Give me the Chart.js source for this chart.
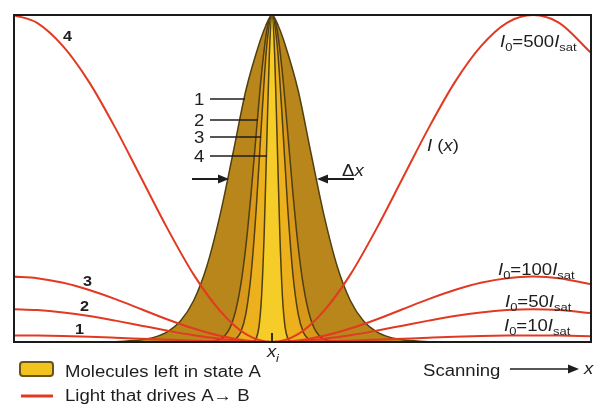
<!DOCTYPE html>
<html>
<head>
<meta charset="utf-8">
<script src="https://cdn.jsdelivr.net/npm/chart.js@4"></script>
<style>
  html, body { margin: 0; padding: 0; background: #fff; }
</style>
</head>
<body>
<canvas id="graficoBarrido" width="598" height="405"></canvas>
<script>
// Posición de barrido (unidades relativas, x_i = 0)
const posLuz = [-0.99, -0.9, -0.8, -0.7, -0.6, -0.5, -0.4, -0.3, -0.2, -0.1, 0, 0.1, 0.2, 0.3, 0.4, 0.5, 0.6, 0.7, 0.8, 0.9, 1.0, 1.1, 1.22];

// Intensidad I(x) en unidades de I_sat
const luz500 = [500, 488, 452, 397, 327, 250, 173, 103, 48, 12, 0, 12, 48, 103, 173, 250, 327, 397, 452, 488, 500, 488, 443];
const luz100 = [100, 97.6, 90.5, 79.4, 65.5, 50, 34.5, 20.6, 9.5, 2.4, 0, 2.4, 9.5, 20.6, 34.5, 50, 65.5, 79.4, 90.5, 97.6, 100, 97.6, 88.5];
const luz50 = [50, 48.8, 45.2, 39.7, 32.7, 25, 17.3, 10.3, 4.8, 1.2, 0, 1.2, 4.8, 10.3, 17.3, 25, 32.7, 39.7, 45.2, 48.8, 50, 48.8, 44.3];
const luz10 = [10, 9.8, 9.0, 7.9, 6.5, 5, 3.5, 2.1, 1.0, 0.2, 0, 0.2, 1.0, 2.1, 3.5, 5, 6.5, 7.9, 9.0, 9.8, 10, 9.8, 8.9];

// Fracción de moléculas que quedan en el estado A
const posA10 = [-0.6, -0.5, -0.45, -0.4, -0.35, -0.3, -0.25, -0.2, -0.15, -0.1, -0.05, -0.025, 0, 0.025, 0.05, 0.1, 0.15, 0.2, 0.25, 0.3, 0.35, 0.4, 0.45, 0.5, 0.6];
const molA10 = [0.001, 0.007, 0.015, 0.032, 0.065, 0.127, 0.231, 0.385, 0.575, 0.77, 0.91, 0.965, 1, 0.965, 0.91, 0.77, 0.575, 0.385, 0.231, 0.127, 0.065, 0.032, 0.015, 0.007, 0.001];

const posA50 = [-0.25, -0.2, -0.18, -0.16, -0.14, -0.12, -0.1, -0.08, -0.06, -0.04, -0.02, 0, 0.02, 0.04, 0.06, 0.08, 0.1, 0.12, 0.14, 0.16, 0.18, 0.2, 0.25];
const molA50 = [0.001, 0.008, 0.02, 0.045, 0.093, 0.173, 0.294, 0.456, 0.642, 0.821, 0.952, 1, 0.952, 0.821, 0.642, 0.456, 0.294, 0.173, 0.093, 0.045, 0.02, 0.008, 0.001];

const posA100 = [-0.16, -0.14, -0.12, -0.1, -0.08, -0.06, -0.04, -0.02, 0, 0.02, 0.04, 0.06, 0.08, 0.1, 0.12, 0.14, 0.16];
const molA100 = [0.002, 0.009, 0.03, 0.087, 0.208, 0.412, 0.674, 0.906, 1, 0.906, 0.674, 0.412, 0.208, 0.087, 0.03, 0.009, 0.002];

const posA500 = [-0.07, -0.06, -0.05, -0.04, -0.03, -0.02, -0.01, 0, 0.01, 0.02, 0.03, 0.04, 0.05, 0.06, 0.07];
const molA500 = [0.002, 0.012, 0.046, 0.139, 0.33, 0.61, 0.884, 1, 0.884, 0.61, 0.33, 0.139, 0.046, 0.012, 0.002];

const rojo = '#e23a22';
const borde = '#4f3f12';
const FUENTE = '"Liberation Sans", Arial, sans-serif';
const SX = 1.16; // el texto del original está algo ensanchado

function puntos(xs, ys) {
    return xs.map((x, i) => ({ x: x, y: ys[i] }));
}

function curvaLuz(datos) {
    return {
        data: puntos(posLuz, datos),
        borderColor: rojo,
        borderWidth: 2,
        pointRadius: 0,
        fill: false,
        yAxisID: 'y'
    };
}

function campana(xs, ys, color) {
    return {
        data: puntos(xs, ys),
        borderColor: borde,
        borderWidth: 1.5,
        backgroundColor: color,
        pointRadius: 0,
        fill: 'origin',
        yAxisID: 'y2'
    };
}

// texto con partes en cursiva y subíndices
function texto(ctx, partes, x, y, size) {
    let cx = x;
    partes.forEach(p => {
        const s = p.sub ? size * 0.7 : size;
        ctx.save();
        ctx.font = (p.it ? 'italic ' : '') + (p.bold ? 'bold ' : '') + s + 'px ' + FUENTE;
        ctx.translate(cx, y + (p.sub ? size * 0.28 : 0));
        ctx.scale(SX, 1);
        ctx.fillText(p.t, 0, 0);
        cx += ctx.measureText(p.t).width * SX;
        ctx.restore();
    });
    return cx;
}

function flecha(ctx, x1, y1, x2, y2) {
    const ang = Math.atan2(y2 - y1, x2 - x1);
    ctx.beginPath();
    ctx.moveTo(x1, y1);
    ctx.lineTo(x2 - 8 * Math.cos(ang), y2 - 8 * Math.sin(ang));
    ctx.stroke();
    ctx.beginPath();
    ctx.moveTo(x2, y2);
    ctx.lineTo(x2 - 11 * Math.cos(ang) + 4.5 * Math.sin(ang), y2 - 11 * Math.sin(ang) - 4.5 * Math.cos(ang));
    ctx.lineTo(x2 - 11 * Math.cos(ang) - 4.5 * Math.sin(ang), y2 - 11 * Math.sin(ang) + 4.5 * Math.cos(ang));
    ctx.closePath();
    ctx.fill();
}

const anotaciones = {
    id: 'anotaciones',
    afterDatasetsDraw(chart) {
        const { ctx, chartArea: a, scales: { x } } = chart;
        ctx.save();
        // marca en x_i
        const xi = x.getPixelForValue(0);
        ctx.strokeStyle = '#3a2e0c';
        ctx.lineWidth = 2;
        ctx.beginPath();
        ctx.moveTo(xi, a.bottom - 9);
        ctx.lineTo(xi, a.bottom);
        ctx.stroke();
        // marco
        ctx.strokeStyle = '#1a1a1a';
        ctx.lineWidth = 2;
        ctx.strokeRect(a.left, a.top, a.right - a.left, a.bottom - a.top);
        ctx.restore();
    },
    afterDraw(chart) {
        const { ctx } = chart;
        ctx.save();
        ctx.fillStyle = '#1e1e1e';
        ctx.strokeStyle = '#1e1e1e';
        ctx.textBaseline = 'alphabetic';

        // números de las curvas rojas
        texto(ctx, [{ t: '4', bold: true }], 63, 41, 14);
        texto(ctx, [{ t: '3', bold: true }], 83, 286, 14);
        texto(ctx, [{ t: '2', bold: true }], 80, 311, 14);
        texto(ctx, [{ t: '1', bold: true }], 75, 334, 14);

        // números de las campanas con sus líneas guía
        const guias = [['1', 105, 245], ['2', 126, 258], ['3', 143, 261], ['4', 162, 267]];
        ctx.lineWidth = 1.5;
        guias.forEach(g => {
            texto(ctx, [{ t: g[0] }], 194, g[1], 16);
            ctx.beginPath();
            ctx.moveTo(210, g[1] - 6);
            ctx.lineTo(g[2], g[1] - 6);
            ctx.stroke();
        });

        // ancho Δx
        ctx.lineWidth = 2;
        flecha(ctx, 192, 179, 229, 179);
        flecha(ctx, 354, 179, 317, 179);
        const px = texto(ctx, [{ t: 'Δ' }], 342, 176, 16);
        texto(ctx, [{ t: 'x', it: true }], px, 176, 16);

        // etiquetas de intensidad
        texto(ctx, [{ t: 'I', it: true }, { t: ' (' }, { t: 'x', it: true }, { t: ')' }], 427, 151, 16);
        const etiquetas = [['500', 500, 47], ['100', 498, 275], ['50', 505, 307], ['10', 504, 331]];
        etiquetas.forEach(e => {
            texto(ctx, [{ t: 'I', it: true }, { t: '0', sub: true }, { t: '=' + e[0] }, { t: 'I', it: true }, { t: 'sat', sub: true }], e[1], e[2], 16);
        });

        // x_i
        texto(ctx, [{ t: 'x', it: true }], 267, 357, 16);
        texto(ctx, [{ t: 'i', it: true }], 276, 362, 11);

        // barrido
        texto(ctx, [{ t: 'Scanning' }], 423, 376, 16);
        ctx.lineWidth = 1.5;
        flecha(ctx, 510, 369, 579, 369);
        texto(ctx, [{ t: 'x', it: true }], 584, 374, 16);

        // leyenda
        ctx.fillStyle = '#f2c21f';
        ctx.strokeStyle = '#6a5417';
        ctx.lineWidth = 2;
        ctx.beginPath();
        ctx.roundRect(20, 362, 33, 14, 3);
        ctx.fill();
        ctx.stroke();
        ctx.strokeStyle = rojo;
        ctx.lineWidth = 3;
        ctx.beginPath();
        ctx.moveTo(21, 396);
        ctx.lineTo(53, 396);
        ctx.stroke();
        ctx.fillStyle = '#1e1e1e';
        texto(ctx, [{ t: 'Molecules left in state A' }], 65, 377, 16);
        texto(ctx, [{ t: 'Light that drives A→ B' }], 65, 401, 16);
        ctx.restore();
    }
};

const ctx = document.getElementById('graficoBarrido').getContext('2d');

new Chart(ctx, {
    type: 'line',
    data: {
        datasets: [
            curvaLuz(luz500),
            curvaLuz(luz100),
            curvaLuz(luz50),
            curvaLuz(luz10),
            campana(posA500, molA500, '#f6cd28'),
            campana(posA100, molA100, '#eeb11e'),
            campana(posA50, molA50, '#d8981a'),
            campana(posA10, molA10, '#b8861b')
        ]
    },
    options: {
        responsive: false,
        animation: false,
        devicePixelRatio: 1,
        layout: { padding: { left: 14, top: 15, right: 7, bottom: 63 } },
        elements: { line: { cubicInterpolationMode: 'monotone' } },
        scales: {
            x: { type: 'linear', min: -0.9885, max: 1.2222, display: false },
            y: { min: 0, max: 500, display: false },
            y2: { min: 0, max: 1, display: false }
        },
        plugins: {
            legend: { display: false },
            tooltip: { enabled: false }
        }
    },
    plugins: [anotaciones]
});
</script>
</body>
</html>
